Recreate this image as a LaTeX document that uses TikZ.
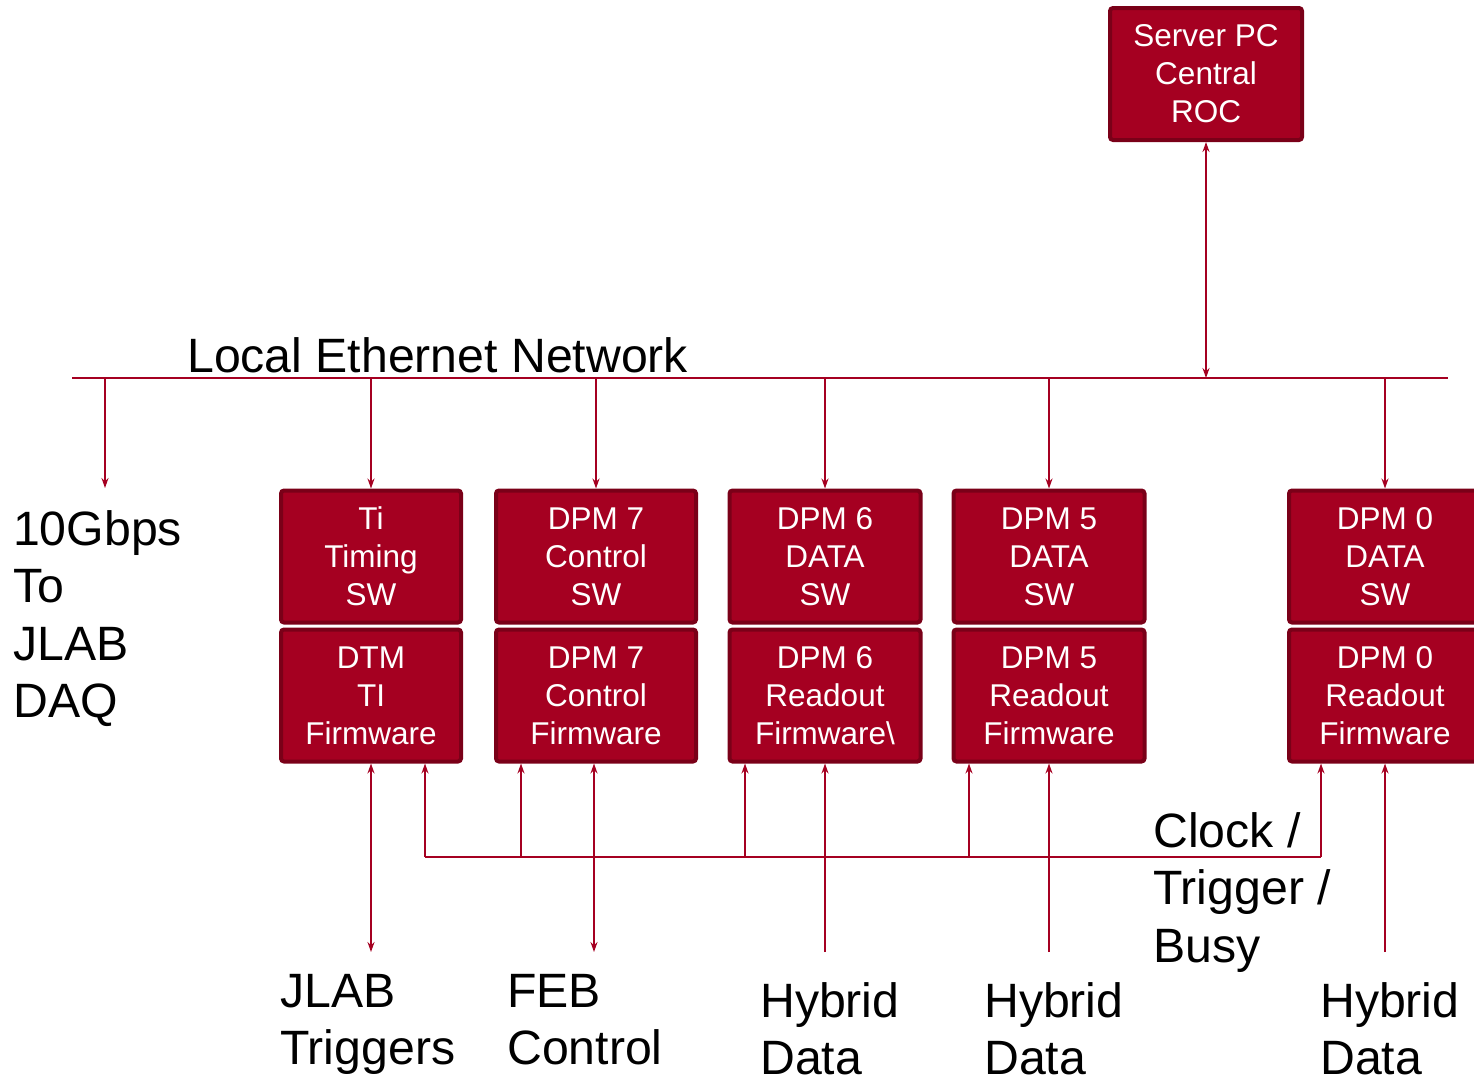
\documentclass[tikz,border=0pt]{standalone}
\usepackage{fontspec}
\setmainfont{Liberation Sans}
\usepackage{tikz}
\usetikzlibrary{arrows.meta, calc}
\definecolor{rojo}{RGB}{165,0,33}
\definecolor{rojoosc}{RGB}{122,0,24}
\newcommand{\grande}{\fontsize{48.2}{57.5}\selectfont}

\begin{document}
\begin{tikzpicture}[x=1pt, y=-1pt,
        modulo/.style={rectangle, rounded corners=3pt, draw=rojoosc, line width=4pt, fill=rojo, text=white,
            minimum height=132pt, align=center, inner sep=0pt, font=\fontsize{31.5}{38}\selectfont},
        etiqueta/.style={anchor=north west, align=left, inner sep=0pt, font=\grande},
        flecha/.style={draw=rojo, line width=1.8pt, -{Stealth[length=10pt, width=7pt]}},
        flechas/.style={flecha, {Stealth[length=10pt, width=7pt]}-{Stealth[length=10pt, width=7pt]}}]

        \useasboundingbox (0,0) rectangle (1474,1076);

        \node[modulo, minimum width=192pt] (server) at (1206,74) {Server PC\\Central\\ROC};

        \node[modulo, minimum width=180pt] (tisw) at (371,556.5) {Ti\\Timing\\SW};
        \node[modulo, minimum width=180pt] (dtm) at (371,695.5) {DTM\\TI\\Firmware};
        \node[modulo, minimum width=200pt] (sw7) at (596,556.5) {DPM 7\\Control\\SW};
        \node[modulo, minimum width=200pt] (fw7) at (596,695.5) {DPM 7\\Control\\Firmware};
        \node[modulo, minimum width=191pt] (sw6) at (825,556.5) {DPM 6\\DATA\\SW};
        \node[modulo, minimum width=191pt] (fw6) at (825,695.5) {DPM 6\\Readout\\Firmware\textbackslash};
        \node[modulo, minimum width=191pt] (sw5) at (1049,556.5) {DPM 5\\DATA\\SW};
        \node[modulo, minimum width=191pt] (fw5) at (1049,695.5) {DPM 5\\Readout\\Firmware};
        \node[modulo, minimum width=192pt] (sw0) at (1385,556.5) {DPM 0\\DATA\\SW};
        \node[modulo, minimum width=192pt] (fw0) at (1385,695.5) {DPM 0\\Readout\\Firmware};

        % Red Ethernet
        \coordinate (ethizq) at (72,378);
        \coordinate (ethder) at (1448,378);
        \draw[rojo, line width=1.8pt] (ethizq) -- (ethder);
        \node[anchor=base west, inner sep=0pt, font=\grande] (lblred) at (187,372) {Local Ethernet Network};

        \draw[flechas] (server.south) -- (server.south |- ethizq);
        \coordinate (daq) at (105,488);
        \draw[flecha] (daq |- ethizq) -- (daq);
        \foreach \n in {tisw, sw7, sw6, sw5, sw0}
            \draw[flecha] (\n.north |- ethizq) -- (\n.north);

        % Reloj / Trigger / Busy
        \coordinate (clkizq) at (425,857);
        \coordinate (clkder) at (1321,857);
        \draw[rojo, line width=1.8pt] (clkizq) -- (clkder);
        \foreach \x/\n in {425/dtm, 521/fw7, 745/fw6, 969/fw5, 1321/fw0}
            \draw[flecha] (\x,857) -- (\n.south -| \x,0);

        % Entradas inferiores
        \coordinate (trig) at (371,952);
        \coordinate (feb) at (594,952);
        \coordinate (hyb6) at (825,952);
        \coordinate (hyb5) at (1049,952);
        \coordinate (hyb0) at (1385,952);
        \draw[flechas] (dtm.south) -- (trig);
        \draw[flechas] (fw7.south -| feb) -- (feb);
        \draw[flecha] (hyb6) -- (fw6.south);
        \draw[flecha] (hyb5) -- (fw5.south);
        \draw[flecha] (hyb0) -- (fw0.south);

        \node[etiqueta] (lbldaq) at (13,510) {10Gbps\\To\\JLAB\\DAQ};
        \node[etiqueta] (lbljlab) at (280,974) {JLAB\\Triggers};
        \node[etiqueta] (lblfeb) at (507,974) {FEB\\Control};
        \node[etiqueta] (lblhyb6) at (760,982) {Hybrid\\Data};
        \node[etiqueta] (lblhyb5) at (984,982) {Hybrid\\Data};
        \node[etiqueta] (lblhyb0) at (1320,982) {Hybrid\\Data};
        \node[etiqueta] (lblclk) at (1153,812) {Clock /\\Trigger /\\Busy};
    \end{tikzpicture}
\end{document}
